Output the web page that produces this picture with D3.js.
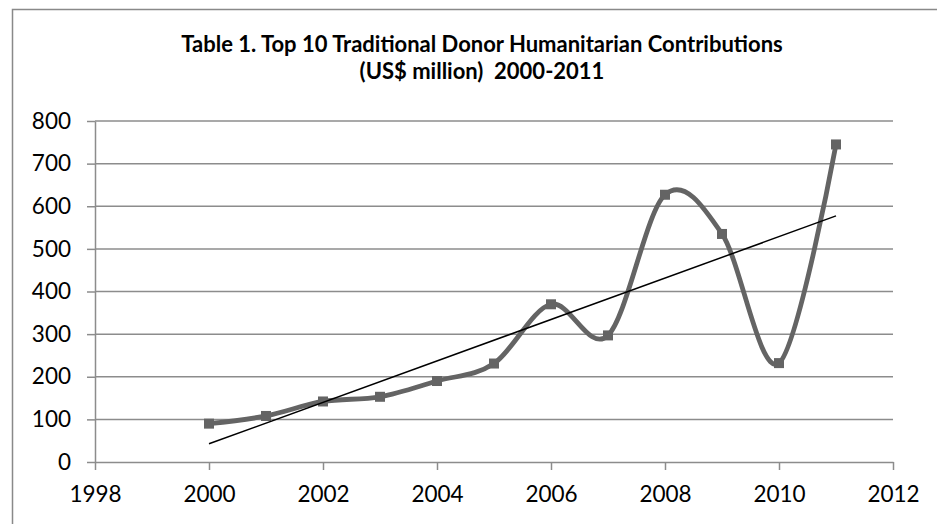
<!DOCTYPE html>
<html><head><meta charset="utf-8">
<script src="https://cdn.jsdelivr.net/npm/d3@7"></script>
<style>
html,body{margin:0;padding:0;background:#fff;}
text{font-family:Lato,"Noto Sans",sans-serif;}
</style></head>
<body>
<svg id="chart" width="937" height="524"></svg>
<script>
const years = [2000,2001,2002,2003,2004,2005,2006,2007,2008,2009,2010,2011];
const contributions = [90,108,142,153,190,231,370,297,627,535,232,745];
const xTicks = [1998,2000,2002,2004,2006,2008,2010,2012];
const yTicks = [0,100,200,300,400,500,600,700,800];
const titleLines = ["Table 1. Top 10 Traditional Donor Humanitarian Contributions","(US$ million)  2000-2011"];

const svg = d3.select("#chart");
const W = 937, H = 524;
const m = {left:95, right:44, top:121, bottom:62};

// chart border
svg.append("rect").attr("x",12.5).attr("y",9.5).attr("width",W).attr("height",H)
  .attr("fill","#fff").attr("stroke","#898989").attr("stroke-width",1.5);

const x = d3.scaleLinear().domain([1998,2012]).range([m.left, W-m.right]);
const y = d3.scaleLinear().domain([0,800]).range([H-m.bottom, m.top]);

// gridlines
svg.append("g").selectAll("line").data(yTicks.filter(d=>d>0)).join("line")
  .attr("x1",x(1998)).attr("x2",x(2012)).attr("y1",d=>y(d)).attr("y2",d=>y(d))
  .attr("stroke","#8c8c8c").attr("stroke-width",1.5);

// y axis
const ya = svg.append("g").attr("transform",`translate(${x(1998)},0)`)
  .call(d3.axisLeft(y).tickValues(yTicks).tickSize(8).tickPadding(16).tickSizeOuter(0));
ya.select(".domain").attr("stroke","#8c8c8c").attr("stroke-width",1.5);
ya.selectAll(".tick line").attr("stroke","#8c8c8c").attr("stroke-width",1.5);
ya.selectAll("text").attr("font-size",22.5).attr("fill","#000");

// x axis
const xa = svg.append("g").attr("transform",`translate(0,${y(0)})`)
  .call(d3.axisBottom(x).tickValues(xTicks).tickFormat(d3.format("d")).tickSize(8).tickPadding(16).tickSizeOuter(0));
xa.select(".domain").attr("stroke","#8c8c8c").attr("stroke-width",1.5);
xa.selectAll(".tick line").attr("stroke","#8c8c8c").attr("stroke-width",1.5);
xa.selectAll("text").attr("font-size",22.5).attr("fill","#000");

// series (smoothed)
const pts = years.map((yr,i)=>[yr, contributions[i]]);
const line = d3.line().x(d=>x(d[0])).y(d=>y(d[1])).curve(d3.curveCatmullRom.alpha(0));
svg.append("path").datum(pts).attr("d",line).attr("fill","none")
  .attr("stroke","#646464").attr("stroke-width",4.8).attr("stroke-linejoin","round");
svg.append("g").selectAll("rect").data(pts).join("rect")
  .attr("x",d=>x(d[0])-5).attr("y",d=>y(d[1])-5).attr("width",10).attr("height",10)
  .attr("fill","#646464");

// linear trend line (least squares)
const n = years.length;
const mx = d3.mean(years), my = d3.mean(contributions);
const sxy = d3.sum(years,(v,i)=>(v-mx)*(contributions[i]-my));
const sxx = d3.sum(years,v=>(v-mx)*(v-mx));
const slope = sxy/sxx, icpt = my - slope*mx;
const trend = [years[0], years[n-1]].map(v=>[v, icpt+slope*v]);
svg.append("path").datum(trend).attr("d",d3.line().x(d=>x(d[0])).y(d=>y(d[1])))
  .attr("stroke","#000").attr("stroke-width",1.5).attr("fill","none");

// title
svg.append("g").selectAll("text").data(titleLines).join("text")
  .attr("x",482).attr("y",(d,i)=>52+i*27)
  .attr("text-anchor","middle").attr("font-size",22).attr("font-weight","bold")
  .attr("fill","#000").style("white-space","pre").text(d=>d);
</script>
</body></html>
